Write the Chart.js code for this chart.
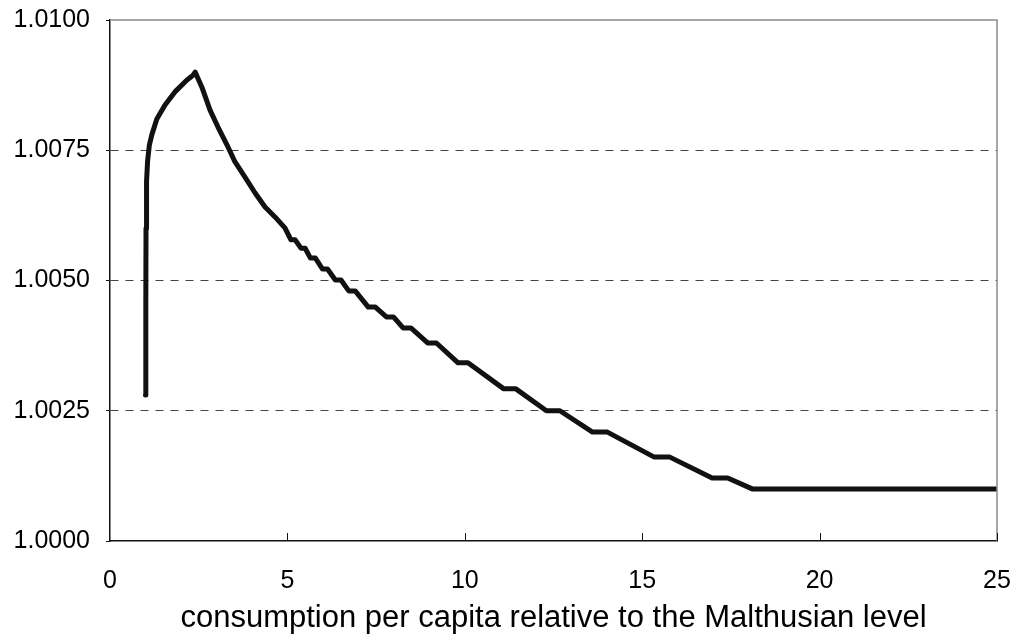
<!DOCTYPE html>
<html>
<head>
<meta charset="utf-8">
<script src="https://cdn.jsdelivr.net/npm/chart.js@4/dist/chart.umd.min.js"></script>
<style>
  html, body { margin: 0; padding: 0; background: #fff; }
  canvas { display: block; }
</style>
</head>
<body>
<canvas id="chart" width="1016" height="641"></canvas>
<script>
// values
const curveX = [1.00, 1.01, 1.015, 1.03, 1.06, 1.11, 1.18, 1.32, 1.55, 1.83, 2.17, 2.34, 2.40,
  2.59, 2.82, 3.04, 3.30, 3.52, 3.80, 4.09, 4.37, 4.65, 4.93,
  5.10, 5.22, 5.38, 5.50, 5.65, 5.79, 5.99, 6.13, 6.35, 6.51, 6.73, 6.91,
  7.28, 7.48, 7.79, 7.99, 8.26, 8.48, 8.96, 9.20, 9.81, 10.09,
  11.10, 11.44, 12.30, 12.68, 13.60, 14.02, 15.34, 15.78, 16.97, 17.41, 18.10, 25];
const curveY = [1.0028, 1.0046, 1.0060, 1.0069, 1.0073, 1.0076, 1.0078, 1.0081, 1.00837, 1.00862, 1.00885, 1.00894, 1.00900,
  1.00871, 1.00827, 1.00795, 1.00760, 1.00728, 1.00699, 1.00668, 1.00641, 1.00622, 1.00601,
  1.00578, 1.00578, 1.00562, 1.00562, 1.00543, 1.00543, 1.00522, 1.00522, 1.00501, 1.00501, 1.00480, 1.00480,
  1.00449, 1.00449, 1.00430, 1.00430, 1.00409, 1.00409, 1.00380, 1.00380, 1.00342, 1.00342,
  1.00292, 1.00292, 1.00250, 1.00250, 1.00209, 1.00209, 1.00161, 1.00161, 1.00121, 1.00121, 1.00100, 1.00100];

const xTicks = [0, 5, 10, 15, 20, 25];
const yTicks = [1.0000, 1.0025, 1.0050, 1.0075, 1.0100];
const xTitle = "consumption per capita relative to the Malthusian level";

const FONT = "'Liberation Sans', Arial, sans-serif";

// grey frame on top/right + inward tick marks on the x axis
const framePlugin = {
  id: 'frame',
  afterDraw(chart) {
    const {ctx, chartArea: a, scales: {x}} = chart;
    ctx.save();
    ctx.strokeStyle = '#8a8a8a';
    ctx.lineWidth = 1.5;
    ctx.beginPath();
    ctx.moveTo(a.left, a.top);
    ctx.lineTo(a.right, a.top);
    ctx.lineTo(a.right, a.bottom);
    ctx.stroke();

    ctx.strokeStyle = '#111';
    ctx.lineWidth = 1;
    xTicks.forEach(v => {
      if (v === 0) return;
      const px = Math.round(x.getPixelForValue(v)) + 0.5;
      ctx.beginPath();
      ctx.moveTo(px, a.bottom);
      ctx.lineTo(px, a.bottom - 8);
      ctx.stroke();
    });
    ctx.restore();
  }
};

const points = curveX.map((v, i) => ({x: v, y: curveY[i]}));

function noPad(s) {
  s.paddingTop = 0; s.paddingBottom = 0; s.paddingLeft = 0; s.paddingRight = 0;
}

new Chart(document.getElementById('chart'), {
  type: 'line',
  data: {
    datasets: [{
      data: points,
      borderColor: '#111',
      borderWidth: 5,
      pointRadius: 0,
      tension: 0,
      borderCapStyle: 'round',
      borderJoinStyle: 'round',
      fill: false
    }]
  },
  options: {
    responsive: false,
    animation: false,
    layout: { padding: { top: 20, right: 19, left: 0, bottom: 0 } },
    plugins: { legend: { display: false }, tooltip: { enabled: false } },
    scales: {
      x: {
        type: 'linear',
        min: 0, max: 25,
        afterBuildTicks: s => { s.ticks = xTicks.map(v => ({value: v})); },
        afterFit: s => { s.height = 100; noPad(s); },
        grid: { display: true, drawOnChartArea: false, drawTicks: false },
        border: { display: true, color: '#111', width: 1.5 },
        ticks: { color: '#000', font: { family: FONT, size: 25 }, padding: 25, maxRotation: 0 },
        title: { display: true, text: xTitle, color: '#000', font: { family: FONT, size: 31 }, padding: { top: 0, bottom: 4 } }
      },
      y: {
        min: 1.0, max: 1.01,
        afterBuildTicks: s => { s.ticks = yTicks.map(v => ({value: v})); },
        afterFit: s => { s.width = 110; noPad(s); },
        grid: {
          color: ctx => (ctx.index === 0 || ctx.index === yTicks.length - 1) ? 'rgba(0,0,0,0)' : '#444',
          tickColor: '#111',
          tickLength: 4,
          tickBorderDash: [],
          lineWidth: 1
        },
        border: { display: true, color: '#111', width: 1.5, dash: [8, 7] },
        ticks: {
          color: '#000',
          font: { family: FONT, size: 25 },
          padding: 16,
          callback: v => v.toFixed(4)
        }
      }
    }
  },
  plugins: [framePlugin]
});
</script>
</body>
</html>
